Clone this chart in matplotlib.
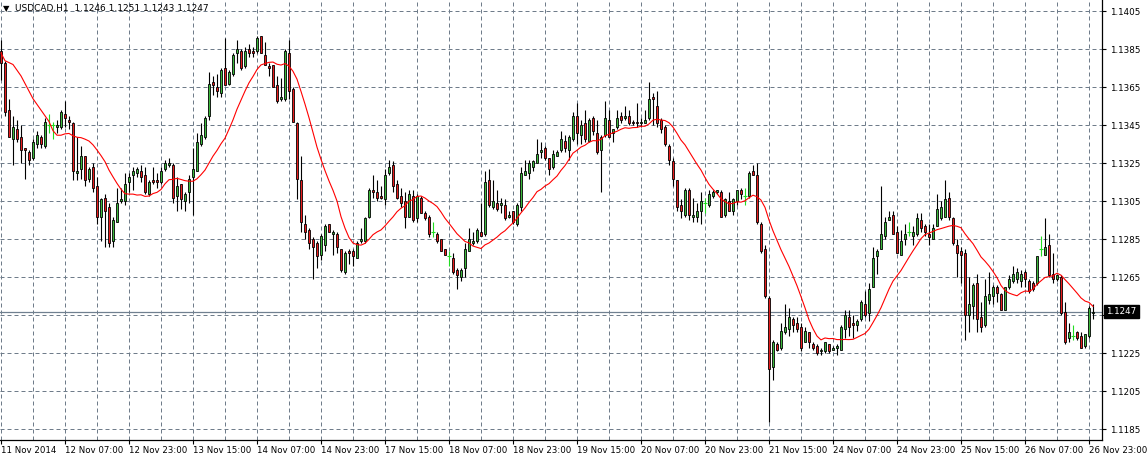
import matplotlib
matplotlib.use("Agg")
import matplotlib.pyplot as plt
import matplotlib.transforms as mtransforms
import numpy as np
import pandas as pd

title_text = "USDCAD,H1  1.1246 1.1251 1.1243 1.1247"

opens = [
    1.1384, 1.1378, 1.1353, 1.1338, 1.1343, 1.1339, 1.1333, 1.1331, 1.1328, 1.1335,
    1.1339, 1.1334, 1.1345, 1.1345, 1.1344, 1.1344, 1.1351, 1.1348, 1.1346, 1.1320,
    1.1322, 1.1329, 1.1317, 1.1323, 1.1313, 1.1297, 1.1307, 1.1302, 1.1284, 1.1294,
    1.1305, 1.1305, 1.1315, 1.1319, 1.1320, 1.1321, 1.1319, 1.1309, 1.1316, 1.1316,
    1.1315, 1.1322, 1.1324, 1.1324, 1.1308, 1.1314, 1.1305, 1.1310, 1.1318, 1.1321,
    1.1335, 1.1339, 1.1350, 1.1368, 1.1365, 1.1362, 1.1375, 1.1367, 1.1372, 1.1383,
    1.1384, 1.1376, 1.1385, 1.1384, 1.1384, 1.1392, 1.1382, 1.1376, 1.1377, 1.1366,
    1.1359, 1.1359, 1.1383, 1.1364, 1.1346, 1.1316, 1.1293, 1.1290, 1.1285, 1.1283,
    1.1277, 1.1282, 1.1293, 1.1288, 1.1288, 1.1280, 1.1268, 1.1279, 1.1279, 1.1275,
    1.1284, 1.1284, 1.1297, 1.1311, 1.1310, 1.1308, 1.1306, 1.1320, 1.1324, 1.1314,
    1.1308, 1.1305, 1.1297, 1.1308, 1.1296, 1.1307, 1.1299, 1.1297, 1.1289, 1.1288,
    1.1285, 1.1280, 1.1276, 1.1275, 1.1269, 1.1265, 1.1270, 1.1279, 1.1283, 1.1284,
    1.1289, 1.1288, 1.1316, 1.1302, 1.1304, 1.1303, 1.1303, 1.1297, 1.1300, 1.1293,
    1.1302, 1.1319, 1.1320, 1.1323, 1.1325, 1.1331, 1.1333, 1.1328, 1.1323, 1.1329,
    1.1332, 1.1337, 1.1332, 1.1338, 1.1350, 1.1340, 1.1346, 1.1337, 1.1349, 1.1341,
    1.1332, 1.1340, 1.1348, 1.1341, 1.1344, 1.1350, 1.1349, 1.1350, 1.1347, 1.1347,
    1.1346, 1.1346, 1.1349, 1.1360, 1.1355, 1.1348, 1.1344, 1.1334, 1.1326, 1.1316,
    1.1303, 1.1298, 1.1311, 1.1297, 1.1297, 1.1300, 1.1304, 1.1303, 1.1308, 1.1310,
    1.1310, 1.1298, 1.1305, 1.1300, 1.1305, 1.1311, 1.1308, 1.1308, 1.1321, 1.1319,
    1.1293, 1.1280, 1.1254, 1.1218, 1.1230, 1.1228, 1.1236, 1.1238, 1.1243, 1.1241,
    1.1239, 1.1231, 1.1236, 1.1230, 1.1229, 1.1226, 1.1226, 1.1230, 1.1227, 1.1228,
    1.1227, 1.1238, 1.1244, 1.1241, 1.1240, 1.1243, 1.1251, 1.1246, 1.1260, 1.1276,
    1.1280, 1.1287, 1.1295, 1.1298, 1.1289, 1.1277, 1.1285, 1.1289, 1.1287, 1.1288,
    1.1295, 1.1292, 1.1288, 1.1285, 1.1292, 1.1296, 1.1297, 1.1307, 1.1296, 1.1282,
    1.1279, 1.1278, 1.1245, 1.1250, 1.1262, 1.1244, 1.1240, 1.1253, 1.1255, 1.1260,
    1.1256, 1.1248, 1.1260, 1.1263, 1.1264, 1.1263, 1.1268, 1.1263, 1.1262, 1.1262,
    1.1280, 1.1277, 1.1282, 1.1267, 1.1264, 1.1265, 1.1247, 1.1233, 1.1234, 1.1236,
    1.1234, 1.1229, 1.1234, 1.1246,
]

highs = [
    1.1390, 1.1379, 1.1359, 1.1350, 1.1348, 1.1345, 1.1333, 1.1332, 1.1338, 1.1342,
    1.1340, 1.1349, 1.1351, 1.1347, 1.1348, 1.1353, 1.1358, 1.1350, 1.1347, 1.1339,
    1.1334, 1.1329, 1.1323, 1.1325, 1.1318, 1.1307, 1.1309, 1.1304, 1.1297, 1.1312,
    1.1312, 1.1320, 1.1320, 1.1323, 1.1323, 1.1324, 1.1323, 1.1316, 1.1323, 1.1320,
    1.1323, 1.1327, 1.1328, 1.1325, 1.1318, 1.1314, 1.1310, 1.1319, 1.1333, 1.1341,
    1.1346, 1.1350, 1.1373, 1.1371, 1.1372, 1.1375, 1.1391, 1.1374, 1.1383, 1.1390,
    1.1385, 1.1386, 1.1388, 1.1386, 1.1392, 1.1392, 1.1389, 1.1378, 1.1377, 1.1371,
    1.1370, 1.1385, 1.1390, 1.1365, 1.1347, 1.1329, 1.1298, 1.1291, 1.1286, 1.1284,
    1.1288, 1.1293, 1.1293, 1.1290, 1.1289, 1.1280, 1.1279, 1.1280, 1.1280, 1.1284,
    1.1291, 1.1297, 1.1312, 1.1319, 1.1316, 1.1313, 1.1322, 1.1327, 1.1326, 1.1316,
    1.1312, 1.1310, 1.1311, 1.1311, 1.1309, 1.1308, 1.1300, 1.1298, 1.1294, 1.1289,
    1.1285, 1.1280, 1.1279, 1.1278, 1.1270, 1.1270, 1.1283, 1.1291, 1.1289, 1.1291,
    1.1304, 1.1321, 1.1322, 1.1316, 1.1311, 1.1307, 1.1306, 1.1300, 1.1300, 1.1304,
    1.1323, 1.1327, 1.1327, 1.1327, 1.1338, 1.1336, 1.1334, 1.1328, 1.1332, 1.1332,
    1.1342, 1.1340, 1.1340, 1.1352, 1.1357, 1.1348, 1.1353, 1.1349, 1.1350, 1.1348,
    1.1340, 1.1358, 1.1353, 1.1343, 1.1353, 1.1352, 1.1355, 1.1353, 1.1348, 1.1357,
    1.1349, 1.1353, 1.1368, 1.1362, 1.1363, 1.1349, 1.1345, 1.1335, 1.1328, 1.1316,
    1.1306, 1.1312, 1.1312, 1.1307, 1.1304, 1.1310, 1.1307, 1.1311, 1.1311, 1.1311,
    1.1311, 1.1307, 1.1310, 1.1307, 1.1311, 1.1312, 1.1312, 1.1321, 1.1324, 1.1325,
    1.1294, 1.1282, 1.1255, 1.1232, 1.1231, 1.1241, 1.1251, 1.1249, 1.1244, 1.1244,
    1.1241, 1.1239, 1.1236, 1.1231, 1.1230, 1.1228, 1.1231, 1.1230, 1.1229, 1.1230,
    1.1240, 1.1248, 1.1248, 1.1245, 1.1243, 1.1253, 1.1258, 1.1262, 1.1281, 1.1280,
    1.1313, 1.1297, 1.1300, 1.1300, 1.1292, 1.1290, 1.1293, 1.1294, 1.1292, 1.1299,
    1.1299, 1.1293, 1.1293, 1.1293, 1.1309, 1.1305, 1.1316, 1.1310, 1.1297, 1.1285,
    1.1281, 1.1280, 1.1265, 1.1262, 1.1267, 1.1252, 1.1264, 1.1268, 1.1261, 1.1261,
    1.1257, 1.1260, 1.1266, 1.1271, 1.1270, 1.1269, 1.1269, 1.1264, 1.1263, 1.1276,
    1.1287, 1.1296, 1.1288, 1.1278, 1.1267, 1.1266, 1.1252, 1.1241, 1.1240, 1.1237,
    1.1236, 1.1235, 1.1250, 1.1251,
]

lows = [
    1.1369, 1.1350, 1.1339, 1.1324, 1.1336, 1.1325, 1.1317, 1.1324, 1.1327, 1.1333,
    1.1333, 1.1333, 1.1341, 1.1338, 1.1341, 1.1343, 1.1344, 1.1343, 1.1316, 1.1316,
    1.1317, 1.1313, 1.1315, 1.1310, 1.1293, 1.1284, 1.1281, 1.1281, 1.1281, 1.1294,
    1.1304, 1.1303, 1.1310, 1.1311, 1.1318, 1.1315, 1.1309, 1.1308, 1.1314, 1.1312,
    1.1314, 1.1321, 1.1323, 1.1304, 1.1300, 1.1301, 1.1300, 1.1304, 1.1298, 1.1321,
    1.1334, 1.1338, 1.1348, 1.1361, 1.1360, 1.1360, 1.1366, 1.1366, 1.1371, 1.1378,
    1.1374, 1.1375, 1.1381, 1.1381, 1.1383, 1.1383, 1.1377, 1.1371, 1.1365, 1.1357,
    1.1358, 1.1358, 1.1359, 1.1347, 1.1306, 1.1289, 1.1285, 1.1280, 1.1264, 1.1270,
    1.1274, 1.1279, 1.1289, 1.1277, 1.1278, 1.1268, 1.1267, 1.1272, 1.1271, 1.1275,
    1.1283, 1.1283, 1.1296, 1.1307, 1.1305, 1.1306, 1.1303, 1.1319, 1.1310, 1.1306,
    1.1302, 1.1291, 1.1297, 1.1294, 1.1294, 1.1299, 1.1295, 1.1286, 1.1286, 1.1283,
    1.1279, 1.1277, 1.1271, 1.1267, 1.1259, 1.1263, 1.1265, 1.1279, 1.1282, 1.1283,
    1.1287, 1.1287, 1.1302, 1.1301, 1.1300, 1.1299, 1.1295, 1.1296, 1.1293, 1.1292,
    1.1300, 1.1319, 1.1317, 1.1321, 1.1325, 1.1328, 1.1327, 1.1319, 1.1322, 1.1329,
    1.1331, 1.1331, 1.1327, 1.1337, 1.1335, 1.1335, 1.1336, 1.1336, 1.1340, 1.1330,
    1.1310, 1.1339, 1.1339, 1.1336, 1.1343, 1.1346, 1.1348, 1.1345, 1.1345, 1.1344,
    1.1344, 1.1346, 1.1348, 1.1345, 1.1344, 1.1341, 1.1334, 1.1324, 1.1313, 1.1300,
    1.1296, 1.1297, 1.1295, 1.1294, 1.1294, 1.1293, 1.1299, 1.1302, 1.1307, 1.1309,
    1.1297, 1.1297, 1.1300, 1.1298, 1.1303, 1.1306, 1.1303, 1.1307, 1.1319, 1.1293,
    1.1278, 1.1254, 1.1189, 1.1211, 1.1226, 1.1227, 1.1235, 1.1234, 1.1236, 1.1236,
    1.1226, 1.1231, 1.1228, 1.1227, 1.1224, 1.1224, 1.1225, 1.1225, 1.1227, 1.1224,
    1.1227, 1.1233, 1.1234, 1.1233, 1.1237, 1.1242, 1.1244, 1.1242, 1.1260, 1.1267,
    1.1280, 1.1285, 1.1295, 1.1288, 1.1278, 1.1277, 1.1282, 1.1287, 1.1282, 1.1287,
    1.1289, 1.1287, 1.1282, 1.1285, 1.1292, 1.1295, 1.1297, 1.1295, 1.1282, 1.1265,
    1.1262, 1.1232, 1.1236, 1.1243, 1.1236, 1.1236, 1.1239, 1.1251, 1.1251, 1.1252,
    1.1248, 1.1248, 1.1259, 1.1262, 1.1262, 1.1260, 1.1260, 1.1257, 1.1258, 1.1261,
    1.1276, 1.1277, 1.1265, 1.1262, 1.1263, 1.1245, 1.1230, 1.1231, 1.1232, 1.1232,
    1.1228, 1.1228, 1.1233, 1.1243,
]

closes = [
    1.1378, 1.1352, 1.1339, 1.1344, 1.1338, 1.1332, 1.1332, 1.1327, 1.1336, 1.1340,
    1.1335, 1.1347, 1.1345, 1.1345, 1.1345, 1.1352, 1.1349, 1.1347, 1.1321, 1.1321,
    1.1329, 1.1316, 1.1322, 1.1312, 1.1297, 1.1306, 1.1300, 1.1283, 1.1295, 1.1304,
    1.1306, 1.1314, 1.1318, 1.1321, 1.1322, 1.1318, 1.1310, 1.1315, 1.1315, 1.1315,
    1.1321, 1.1325, 1.1325, 1.1307, 1.1313, 1.1306, 1.1309, 1.1317, 1.1322, 1.1336,
    1.1340, 1.1349, 1.1367, 1.1366, 1.1363, 1.1374, 1.1366, 1.1373, 1.1382, 1.1385,
    1.1375, 1.1384, 1.1383, 1.1383, 1.1391, 1.1383, 1.1377, 1.1375, 1.1365, 1.1358,
    1.1360, 1.1384, 1.1363, 1.1347, 1.1317, 1.1294, 1.1289, 1.1283, 1.1281, 1.1276,
    1.1287, 1.1292, 1.1289, 1.1289, 1.1281, 1.1269, 1.1278, 1.1278, 1.1276, 1.1283,
    1.1285, 1.1296, 1.1311, 1.1310, 1.1307, 1.1307, 1.1319, 1.1323, 1.1313, 1.1307,
    1.1304, 1.1297, 1.1309, 1.1295, 1.1308, 1.1299, 1.1296, 1.1288, 1.1289, 1.1284,
    1.1279, 1.1277, 1.1276, 1.1268, 1.1266, 1.1269, 1.1280, 1.1285, 1.1284, 1.1290,
    1.1287, 1.1315, 1.1303, 1.1305, 1.1301, 1.1304, 1.1296, 1.1298, 1.1294, 1.1303,
    1.1320, 1.1321, 1.1325, 1.1326, 1.1330, 1.1332, 1.1328, 1.1322, 1.1330, 1.1331,
    1.1338, 1.1333, 1.1339, 1.1350, 1.1341, 1.1345, 1.1338, 1.1348, 1.1342, 1.1331,
    1.1339, 1.1349, 1.1339, 1.1343, 1.1349, 1.1348, 1.1350, 1.1346, 1.1346, 1.1346,
    1.1347, 1.1348, 1.1359, 1.1359, 1.1346, 1.1343, 1.1335, 1.1327, 1.1317, 1.1302,
    1.1300, 1.1311, 1.1298, 1.1298, 1.1300, 1.1305, 1.1304, 1.1309, 1.1310, 1.1311,
    1.1297, 1.1306, 1.1300, 1.1306, 1.1311, 1.1309, 1.1308, 1.1320, 1.1319, 1.1294,
    1.1279, 1.1255, 1.1217, 1.1231, 1.1227, 1.1237, 1.1239, 1.1244, 1.1240, 1.1238,
    1.1228, 1.1237, 1.1231, 1.1228, 1.1225, 1.1227, 1.1231, 1.1226, 1.1228, 1.1229,
    1.1239, 1.1245, 1.1239, 1.1240, 1.1242, 1.1252, 1.1245, 1.1259, 1.1275, 1.1279,
    1.1288, 1.1294, 1.1297, 1.1288, 1.1278, 1.1284, 1.1288, 1.1289, 1.1289, 1.1296,
    1.1291, 1.1289, 1.1286, 1.1291, 1.1301, 1.1302, 1.1306, 1.1297, 1.1283, 1.1278,
    1.1277, 1.1245, 1.1251, 1.1261, 1.1243, 1.1239, 1.1255, 1.1256, 1.1260, 1.1257,
    1.1248, 1.1260, 1.1264, 1.1267, 1.1268, 1.1267, 1.1264, 1.1258, 1.1259, 1.1276,
    1.1280, 1.1281, 1.1266, 1.1264, 1.1266, 1.1246, 1.1231, 1.1236, 1.1234, 1.1233,
    1.1228, 1.1235, 1.1249, 1.1247,
]

# moving average values for the first bars (history before the window)
ma_head = [1.1383, 1.1379, 1.1378, 1.1377, 1.1374, 1.1371, 1.1367, 1.1363,
           1.1359, 1.1356, 1.1353, 1.1350, 1.1347]
ma_period = 14

price_ticks = [1.1185, 1.1205, 1.1225, 1.1245, 1.1265, 1.1285, 1.1305,
               1.1325, 1.1345, 1.1365, 1.1385, 1.1405]
time_labels = ["11 Nov 2014", "12 Nov 07:00", "12 Nov 23:00", "13 Nov 15:00",
               "14 Nov 07:00", "14 Nov 23:00", "17 Nov 15:00", "18 Nov 07:00",
               "18 Nov 23:00", "19 Nov 15:00", "20 Nov 07:00", "20 Nov 23:00",
               "21 Nov 15:00", "24 Nov 07:00", "24 Nov 23:00", "25 Nov 15:00",
               "26 Nov 07:00", "26 Nov 23:00"]
label_step = 16
grid_step = 8
last_price = 1.1247

# ---------------------------------------------------------------
O = np.array(opens); H = np.array(highs); L = np.array(lows); C = np.array(closes)
n = len(C)
x = np.arange(n)

ma = pd.Series(C).rolling(ma_period).mean().to_numpy()
ma[:len(ma_head)] = ma_head

W, Hpx = 1147, 458
fig = plt.figure(figsize=(W / 100, Hpx / 100), dpi=100, facecolor="white")
plot_right = 1102
plot_bottom = 440
ax = fig.add_axes([0, (Hpx - plot_bottom) / Hpx, plot_right / W, plot_bottom / Hpx])
ax.set_facecolor("white")

ax.set_xlim(-0.25, (plot_right - 1) / 4)
ax.set_ylim(1.117937, 1.141095)

grid_color = "#6f7c8a"
for p in price_ticks:
    ax.axhline(p, color=grid_color, lw=0.72, ls=(0, (4, 3)), zorder=0)
for gx in range(0, n + grid_step, grid_step):
    ax.axvline(gx, color=grid_color, lw=0.72, ls=(0, (4, 3)), zorder=0)

ax.axhline(last_price, color="#708090", lw=0.9, zorder=1)

up = C > O + 1e-9
down = C < O - 1e-9
doji = ~(up | down)

ax.vlines(x[~doji], L[~doji], H[~doji], color="black", lw=0.8, zorder=2)
ax.bar(x[up], (C - O)[up], bottom=O[up], width=0.62, color="#3cb83c",
       edgecolor="black", linewidth=0.6, zorder=3)
ax.bar(x[down], (O - C)[down], bottom=C[down], width=0.62, color="#e81c1c",
       edgecolor="black", linewidth=0.6, zorder=3)
ax.vlines(x[doji], L[doji], H[doji], color="#22dd22", lw=0.8, zorder=3)
ax.hlines(C[doji], x[doji] - 0.45, x[doji] + 0.45, color="#22dd22", lw=0.8, zorder=3)

ax.plot(x, ma, color="#ff0000", lw=0.8, zorder=4)

# axes styling
for s in ["left", "top"]:
    ax.spines[s].set_visible(False)
for s in ["right", "bottom"]:
    ax.spines[s].set_color("black")
    ax.spines[s].set_linewidth(0.9)

ax.yaxis.tick_right()
ax.set_yticks(price_ticks)
ax.set_yticklabels([f"{p:.4f}" for p in price_ticks])
ax.tick_params(axis="y", length=3, width=0.8, pad=3, labelsize=6.3,
               colors="black", direction="out")

xt = list(range(0, n, label_step))
ax.set_xticks(xt)
ax.set_xticklabels(time_labels[:len(xt)])
ax.tick_params(axis="x", length=3, width=0.8, pad=1.5, labelsize=6.2,
               colors="black", direction="out")
for lbl in ax.get_xticklabels():
    lbl.set_ha("left")

# current price tag
trans = mtransforms.blended_transform_factory(ax.transAxes, ax.transData)
ax.text(1.004, last_price, f"{last_price:.4f}", transform=trans, ha="left",
        va="center", color="white", fontsize=6.3, clip_on=False, zorder=10,
        bbox=dict(boxstyle="square,pad=0.28", fc="black", ec="black"))

# title
fig.text(3 / W, 1 - 9 / Hpx, "\u25bc", fontsize=6, va="center", ha="left")
fig.text(15 / W, 1 - 9 / Hpx, title_text, fontsize=6.5, va="center", ha="left")

fig.savefig("out.png", dpi=100, facecolor="white")
